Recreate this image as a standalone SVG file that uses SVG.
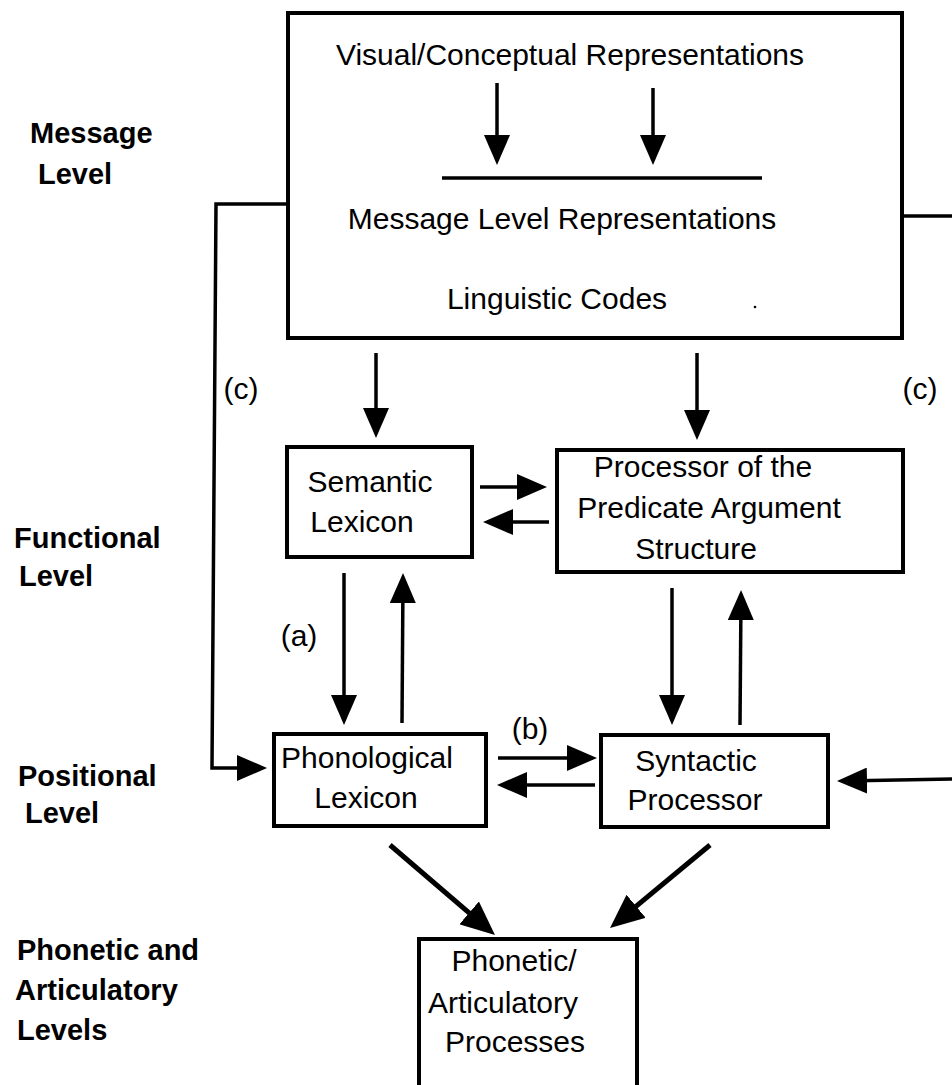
<svg xmlns="http://www.w3.org/2000/svg" width="952" height="1085" viewBox="0 0 952 1085">
  <style>
    .box { fill: #ffffff; stroke: #000000; stroke-width: 4; }
    .txt { font-family: "Liberation Sans", Arial, Helvetica, sans-serif; font-size: 30px; fill: #000000; text-anchor: middle; }
    .lvl { font-family: "Liberation Sans", Arial, Helvetica, sans-serif; font-size: 29px; font-weight: bold; fill: #000000; }
    .ln { fill: none; stroke: #000000; stroke-width: 3.5; }
    .arr { fill: none; stroke: #000000; stroke-width: 3.5; marker-end: url(#ah); }
    .arrD { fill: none; stroke: #000000; stroke-width: 5; marker-end: url(#ahL); }
  </style>
  <defs>
    <marker id="ah" viewBox="0 0 30 26" refX="24" refY="13" markerWidth="30" markerHeight="26" markerUnits="userSpaceOnUse" orient="auto">
      <path d="M0,0 L30,13 L0,26 Z" fill="#000000"/>
    </marker>
    <marker id="ahL" viewBox="0 0 34 30" refX="28" refY="15" markerWidth="34" markerHeight="30" markerUnits="userSpaceOnUse" orient="auto">
      <path d="M0,0 L34,15 L0,30 Z" fill="#000000"/>
    </marker>
  </defs>

  <rect width="952" height="1085" fill="#ffffff"/>

  <!-- level labels -->
  <g id="level-labels">
    <text class="lvl" x="30" y="143">Message</text>
    <text class="lvl" x="38" y="184">Level</text>
    <text class="lvl" x="14" y="548">Functional</text>
    <text class="lvl" x="19" y="586">Level</text>
    <text class="lvl" x="18" y="786">Positional</text>
    <text class="lvl" x="25" y="823">Level</text>
    <text class="lvl" x="17" y="960">Phonetic and</text>
    <text class="lvl" x="15" y="1000">Articulatory</text>
    <text class="lvl" x="17" y="1040">Levels</text>
  </g>

  <!-- message level -->
  <g id="message-level">
    <rect class="box" x="288" y="13" width="614" height="325"/>
    <text class="txt" x="570" y="65">Visual/Conceptual Representations</text>
    <line class="arr" x1="497" y1="83" x2="497" y2="159"/>
    <line class="arr" x1="653" y1="88" x2="653" y2="159"/>
    <line class="ln" x1="442" y1="178" x2="762" y2="178"/>
    <text class="txt" x="562" y="229">Message Level Representations</text>
    <text class="txt" x="557" y="309">Linguistic Codes</text>
    <circle cx="755" cy="307" r="1.3" fill="#000000"/>
  </g>

  <g id="semantic-lexicon">
    <rect class="box" x="287" y="447" width="185" height="110"/>
    <text class="txt" x="370" y="492">Semantic</text>
    <text class="txt" x="362" y="532">Lexicon</text>
  </g>

  <g id="predicate-argument">
    <rect class="box" x="557" y="450" width="346" height="122"/>
    <text class="txt" x="703" y="477">Processor of the</text>
    <text class="txt" x="709" y="518">Predicate Argument</text>
    <text class="txt" x="696" y="559">Structure</text>
  </g>

  <g id="phonological-lexicon">
    <rect class="box" x="274" y="734" width="212" height="92"/>
    <text class="txt" x="367" y="768">Phonological</text>
    <text class="txt" x="366" y="808">Lexicon</text>
  </g>

  <g id="syntactic-processor">
    <rect class="box" x="601" y="735" width="227" height="92"/>
    <text class="txt" x="696" y="771">Syntactic</text>
    <text class="txt" x="695" y="810">Processor</text>
  </g>

  <g id="phonetic-articulatory">
    <rect class="box" x="419" y="939" width="218" height="170"/>
    <text class="txt" x="514" y="971">Phonetic/</text>
    <text class="txt" x="503" y="1013">Articulatory</text>
    <text class="txt" x="515" y="1052">Processes</text>
  </g>

  <!-- connectors -->
  <g id="connectors">
    <line class="arr" x1="376" y1="353" x2="376" y2="432"/>
    <line class="arr" x1="697" y1="353" x2="697" y2="434"/>
    <line class="arr" x1="480" y1="487" x2="541" y2="487"/>
    <line class="arr" x1="549" y1="522" x2="489" y2="522"/>
    <line class="arr" x1="344" y1="573" x2="344" y2="719"/>
    <line class="arr" x1="402" y1="723" x2="403" y2="579"/>
    <line class="arr" x1="672" y1="588" x2="672" y2="719"/>
    <line class="arr" x1="740" y1="725" x2="741" y2="596"/>
    <line class="arr" x1="498" y1="758" x2="591" y2="758"/>
    <line class="arr" x1="595" y1="785" x2="503" y2="785"/>
    <line class="arrD" x1="390" y1="845" x2="490.4" y2="931.1"/>
    <line class="arrD" x1="710" y1="845" x2="614.6" y2="924.2"/>
    <!-- feedback routes (c) -->
    <polyline class="arr" points="288,204 216,204 212,768 261,768"/>
    <line class="ln" x1="902" y1="216" x2="952" y2="216"/>
    <line class="arr" x1="952" y1="779" x2="843" y2="781"/>
    <text class="txt" x="299" y="646">(a)</text>
    <text class="txt" x="530" y="739">(b)</text>
    <text class="txt" x="241" y="399">(c)</text>
    <text class="txt" x="920" y="399">(c)</text>
  </g>
</svg>
